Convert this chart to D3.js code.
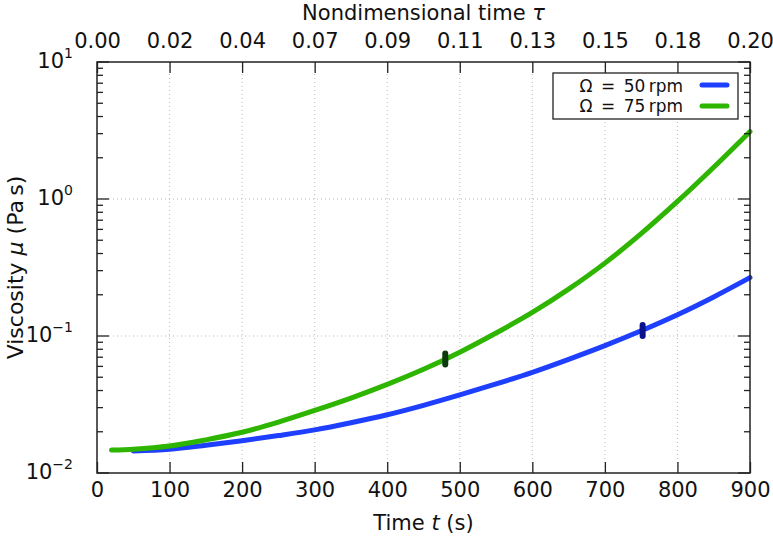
<!DOCTYPE html>
<head>
<meta charset="utf-8">
<script src="https://cdn.jsdelivr.net/npm/d3@7"></script>
<style>
body { margin: 0; background: #fff; }
text { font-family: "DejaVu Sans", sans-serif; fill: #111; }
.grid line { stroke: #bbb; stroke-dasharray: 1,3; stroke-width: 1; }
</style>
</head>
<body>
<script>

// time ticks (s) and nondimensional tau labels on the top axis
var tTicks = [0, 100, 200, 300, 400, 500, 600, 700, 800, 900]
var tauLabels = ["0.00", "0.02", "0.04", "0.07", "0.09", "0.11", "0.13", "0.15", "0.18", "0.20"]
var yExps = [-2, -1, 0, 1]

// Omega = 50 rpm
var t50  = [50, 100, 150, 200, 250, 300, 350, 400, 450, 500, 550, 600, 650, 700, 750, 800, 850, 900]
var mu50 = [0.01449, 0.01489, 0.01592, 0.01718, 0.01875, 0.02065, 0.02328, 0.02661, 0.03119, 0.03715,
            0.04467, 0.05433, 0.06761, 0.08511, 0.1091, 0.1429, 0.1928, 0.2667]

// Omega = 75 rpm
var t75  = [20, 50, 100, 150, 200, 250, 300, 350, 400, 450, 500, 550, 600, 650, 700, 750, 800, 850, 900]
var mu75 = [0.01469, 0.01493, 0.01574, 0.01746, 0.01982, 0.02355, 0.02864, 0.03524, 0.04436, 0.05715,
            0.07621, 0.1052, 0.1486, 0.2198, 0.3404, 0.5585, 0.9594, 1.706, 3.105]

// gel markers
var markT  = [752, 480]
var markMu = [0.1095, 0.068]

var series = [
    {name: "50", t: t50, mu: mu50, color: "#1f3fff", mark: "#0a138c"},
    {name: "75", t: t75, mu: mu75, color: "#2db500", mark: "#0d3a0d"}
]

var margin = {top: 62, right: 23, bottom: 73, left: 97}
var width = 773 - margin.left - margin.right
var height = 546 - margin.top - margin.bottom

var svg = d3.select("body").append("svg")
    .attr("width", 773)
    .attr("height", 546)
  .append("g")
    .attr("transform", "translate(" + margin.left + "," + margin.top + ")")

var x = d3.scaleLinear().domain([0, 900]).range([0, width])
var y = d3.scaleLog().domain([0.01, 10]).range([height, 0])

// grid
var grid = svg.append("g").attr("class", "grid")
grid.selectAll(".gx")
    .data(tTicks.slice(1, -1))
    .enter().append("line")
    .attr("x1", d => x(d)).attr("x2", d => x(d))
    .attr("y1", 0).attr("y2", height)
grid.selectAll(".gy")
    .data([0.1, 1])
    .enter().append("line")
    .attr("x1", 0).attr("x2", width)
    .attr("y1", d => y(d)).attr("y2", d => y(d))

// curves
var line = d3.line()
    .x(d => x(d[0]))
    .y(d => y(d[1]))
    .curve(d3.curveMonotoneX)

series.forEach(function(s) {
    svg.append("path")
        .datum(s.t.map((t, i) => [t, s.mu[i]]))
        .attr("fill", "none")
        .attr("stroke", s.color)
        .attr("stroke-width", 5)
        .attr("stroke-linecap", "round")
        .attr("d", line)
})

// markers
svg.selectAll(".mark")
    .data(markT)
    .enter().append("line")
    .attr("x1", d => x(d)).attr("x2", d => x(d))
    .attr("y1", (d, i) => y(markMu[i]) - 5.5)
    .attr("y2", (d, i) => y(markMu[i]) + 5.5)
    .attr("stroke", (d, i) => series[i].mark)
    .attr("stroke-width", 6)
    .attr("stroke-linecap", "round")

// axes
var xBottom = svg.append("g")
    .attr("transform", "translate(0," + height + ")")
    .call(d3.axisBottom(x).tickValues(tTicks).tickSize(-11).tickPadding(9).tickFormat(d3.format("d")))
var xTop = svg.append("g")
    .call(d3.axisTop(x).tickValues(tTicks).tickSize(-11).tickPadding(14).tickFormat((d, i) => tauLabels[i]))

;[xBottom, xTop].forEach(function(a) {
    a.select(".domain").remove()
    a.selectAll(".tick line").attr("stroke", "#222").attr("stroke-width", 1.3)
    a.selectAll("text").style("font-size", "21px").attr("fill", "#111")
})

// y ticks, major and minor, on both sides
var minor = []
for (var e = -2; e < 1; e++) {
    for (var k = 2; k <= 9; k++) minor.push(k * Math.pow(10, e))
}
var majors = yExps.map(e => Math.pow(10, e))

;[0, width].forEach(function(xp) {
    var dir = xp == 0 ? 1 : -1
    svg.selectAll(null).data(minor).enter().append("line")
        .attr("x1", xp).attr("x2", xp + dir * 6)
        .attr("y1", d => y(d)).attr("y2", d => y(d))
        .attr("stroke", "#222").attr("stroke-width", 1.3)
    svg.selectAll(null).data(majors).enter().append("line")
        .attr("x1", xp).attr("x2", xp + dir * 12)
        .attr("y1", d => y(d)).attr("y2", d => y(d))
        .attr("stroke", "#222").attr("stroke-width", 1.3)
})

var yLab = svg.selectAll(".ylab")
    .data(yExps)
    .enter().append("text")
    .attr("x", -24)
    .attr("y", d => y(Math.pow(10, d)) + 6)
    .attr("text-anchor", "end")
    .style("font-size", "21px")
yLab.append("tspan").text("10")
yLab.append("tspan")
    .attr("dy", -10)
    .style("font-size", "14px")
    .text(d => d < 0 ? "\u2212" + (-d) : d)

// frame
svg.append("rect")
    .attr("width", width).attr("height", height)
    .attr("fill", "none")
    .attr("stroke", "#222")
    .attr("stroke-width", 1.5)

// axis titles
var tb = svg.append("text")
    .attr("x", width / 2)
    .attr("y", height + 57)
    .attr("text-anchor", "middle")
    .style("font-size", "21px")
tb.append("tspan").text("Time ")
tb.append("tspan").style("font-style", "italic").text("t")
tb.append("tspan").text(" (s)")

var tt = svg.append("text")
    .attr("x", width / 2)
    .attr("y", -42)
    .attr("text-anchor", "middle")
    .style("font-size", "21px")
tt.append("tspan").text("Nondimensional time ")
tt.append("tspan").style("font-style", "italic").text("\u03c4")

var ty = svg.append("text")
    .attr("transform", "translate(-74," + height / 2 + ") rotate(-90)")
    .attr("text-anchor", "middle")
    .style("font-size", "22px")
ty.append("tspan").text("Viscosity ")
ty.append("tspan").style("font-style", "italic").text("\u03bc")
ty.append("tspan").text(" (Pa\u2009s)")

// legend
var lg = svg.append("g").attr("transform", "translate(" + (553 - margin.left) + "," + (73 - margin.top) + ")")
lg.append("rect")
    .attr("width", 185).attr("height", 46)
    .attr("fill", "#fff")
    .attr("stroke", "#222")
    .attr("stroke-width", 1.3)
series.forEach(function(s, i) {
    lg.append("text")
        .attr("x", 130)
        .attr("y", 19 + i * 20)
        .attr("text-anchor", "end")
        .style("font-size", "17px")
        .text("\u03a9\u2002=\u2002" + s.name + "\u2009rpm")
    lg.append("line")
        .attr("x1", 149).attr("x2", 174)
        .attr("y1", 12 + i * 21).attr("y2", 12 + i * 21)
        .attr("stroke", s.color)
        .attr("stroke-width", 5)
        .attr("stroke-linecap", "round")
})

</script>
</body>
</html>
